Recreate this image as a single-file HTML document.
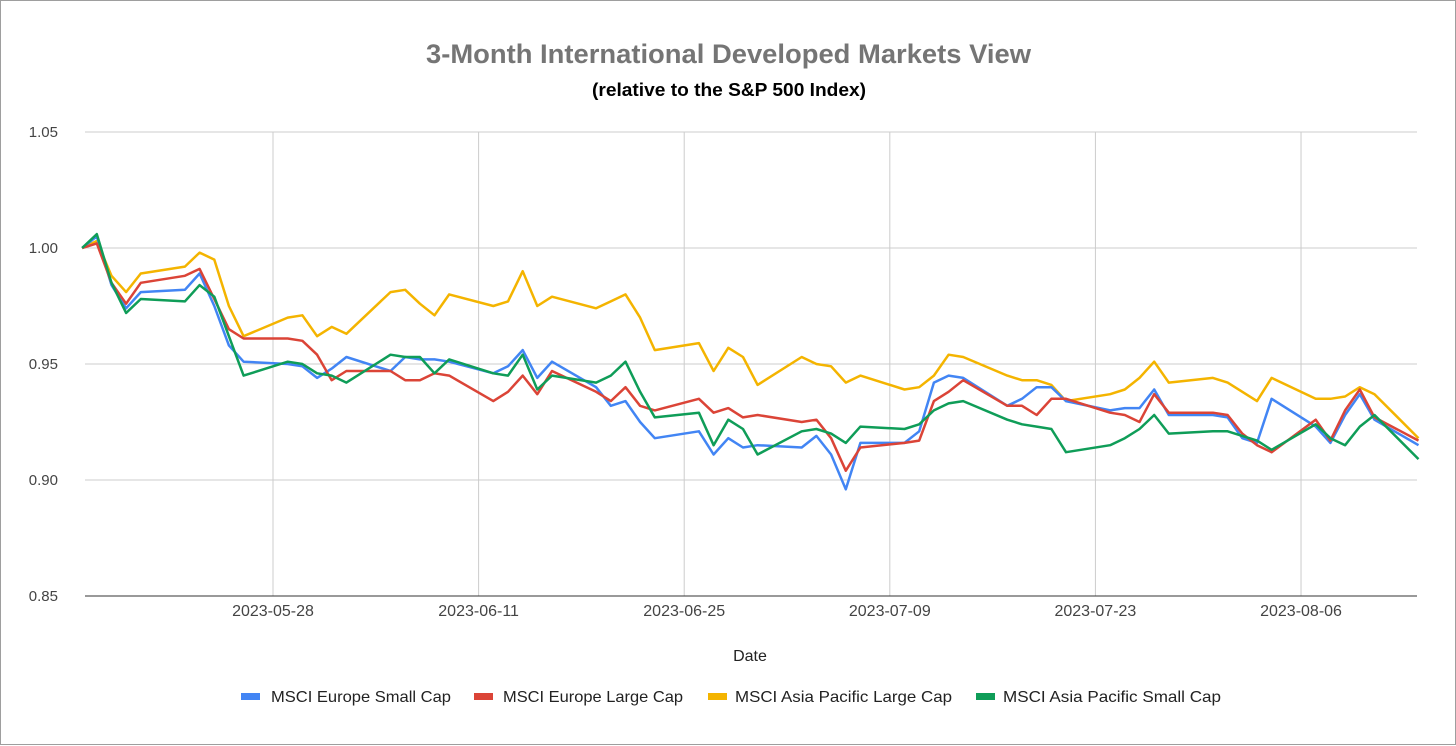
<!DOCTYPE html>
<html><head><meta charset="utf-8"><style>
body{margin:0;background:#fff;font-family:"Liberation Sans",Arial,sans-serif;}
#wrap{position:relative;width:1454px;height:743px;border:1px solid #9e9e9e;}
svg{position:absolute;left:0;top:0}
</style></head><body>
<div id="wrap">
<svg id="chart" width="1456" height="745"></svg>
</div>
<script>
const startDate = "2023-05-15";
const dayCount = 66;
const xTickLabels = ["2023-05-28","2023-06-11","2023-06-25","2023-07-09","2023-07-23","2023-08-06"];
const yTicks = [0.85,0.90,0.95,1.00,1.05];
const seriesNames = ["MSCI Europe Small Cap","MSCI Europe Large Cap","MSCI Asia Pacific Large Cap","MSCI Asia Pacific Small Cap"];
const europeSmall = [1.000,1.005,0.984,0.974,0.981, 0.982,0.989,0.975,0.958,0.951, 0.950,0.949,0.944,0.948,0.953, 0.947,0.953,0.952,0.952,0.951, 0.946,0.949,0.956,0.944,0.951, 0.940,0.932,0.934,0.925,0.918, 0.921,0.911,0.918,0.914,0.915, 0.914,0.919,0.911,0.896,0.916, 0.916,0.921,0.942,0.945,0.944, 0.932,0.935,0.940,0.940,0.934, 0.930,0.931,0.931,0.939,0.928, 0.928,0.927,0.918,0.916,0.935, 0.923,0.916,0.928,0.937,0.926, 0.915];
const europeLarge = [1.000,1.002,0.985,0.976,0.985, 0.988,0.991,0.978,0.965,0.961, 0.961,0.960,0.954,0.943,0.947, 0.947,0.943,0.943,0.946,0.945, 0.934,0.938,0.945,0.937,0.947, 0.938,0.934,0.940,0.932,0.930, 0.935,0.929,0.931,0.927,0.928, 0.925,0.926,0.918,0.904,0.914, 0.916,0.917,0.934,0.938,0.943, 0.932,0.932,0.928,0.935,0.935, 0.929,0.928,0.925,0.937,0.929, 0.929,0.928,0.920,0.915,0.912, 0.926,0.917,0.930,0.939,0.927, 0.917];
const asiaLarge = [1.000,1.003,0.988,0.981,0.989, 0.992,0.998,0.995,0.975,0.962, 0.970,0.971,0.962,0.966,0.963, 0.981,0.982,0.976,0.971,0.980, 0.975,0.977,0.990,0.975,0.979, 0.974,0.977,0.980,0.970,0.956, 0.959,0.947,0.957,0.953,0.941, 0.953,0.950,0.949,0.942,0.945, 0.939,0.940,0.945,0.954,0.953, 0.945,0.943,0.943,0.941,0.934, 0.937,0.939,0.944,0.951,0.942, 0.944,0.942,0.938,0.934,0.944, 0.935,0.935,0.936,0.940,0.937, 0.918];
const asiaSmall = [1.000,1.006,0.985,0.972,0.978, 0.977,0.984,0.979,0.962,0.945, 0.951,0.950,0.946,0.945,0.942, 0.954,0.953,0.953,0.946,0.952, 0.946,0.945,0.954,0.939,0.945, 0.942,0.945,0.951,0.938,0.927, 0.929,0.915,0.926,0.922,0.911, 0.921,0.922,0.920,0.916,0.923, 0.922,0.924,0.930,0.933,0.934, 0.926,0.924,0.923,0.922,0.912, 0.915,0.918,0.922,0.928,0.920, 0.921,0.921,0.919,0.917,0.913, 0.924,0.918,0.915,0.923,0.928, 0.909];
const seriesColors = ["#4285f4","#db4437","#f4b400","#0f9d58"];

const NS="http://www.w3.org/2000/svg";
const svg=document.getElementById('chart');
const X0=84,X1=1416,Y0=131,Y1=595;
const dayMs=86400000;
const t0=Date.parse(startDate+"T00:00:00Z");
const dates=[];
for(let d=0;dates.length<dayCount;d++){const t=t0+d*dayMs;const wd=new Date(t).getUTCDay();if(wd!==0&&wd!==6)dates.push(t);}
const tRef=Date.parse("2023-05-28T00:00:00Z");
const pxPerDay=14.686;
const xs=t=>272+(t-tRef)/dayMs*pxPerDay;
const ys=v=>Y1-(v-0.85)/(1.05-0.85)*(Y1-Y0);
function el(tag,attrs,txt){const e=document.createElementNS(NS,tag);for(const k in attrs)e.setAttribute(k,attrs[k]);if(txt!==undefined)e.textContent=txt;svg.appendChild(e);return e;}

let e=el('text',{x:425,y:62,'font-size':27,'font-weight':'bold',fill:'#757575',textLength:605,lengthAdjust:'spacingAndGlyphs'},'3-Month International Developed Markets View');


e=el('text',{x:591,y:95,'font-size':18,'font-weight':'bold',fill:'#000',textLength:274,lengthAdjust:'spacingAndGlyphs'},'(relative to the S&P 500 Index)');



yTicks.forEach(v=>{
  const y=ys(v);
  if(v>0.85){const g=el('line',{x1:X0,x2:X1,y1:y,y2:y,stroke:'#cccccc','stroke-width':1});
  
  }
  const t=el('text',{x:57,y:y+5,'text-anchor':'end','font-size':15,fill:'#444'},v.toFixed(2));
  
  
});
xTickLabels.forEach(s=>{
  const x=xs(Date.parse(s+"T00:00:00Z"));
  const g=el('line',{x1:x,x2:x,y1:Y0,y2:Y1,stroke:'#cccccc','stroke-width':1});
  
  
  const t=el('text',{x:x,y:615,'text-anchor':'middle','font-size':16,fill:'#444'},s);
  
  
});
e=el('line',{x1:X0,x2:X1,y1:Y1,y2:Y1,stroke:'#333','stroke-width':1});


e=el('text',{x:749,y:660,'text-anchor':'middle','font-size':16,fill:'#222'},'Date');



const allSeries=[europeSmall,europeLarge,asiaLarge,asiaSmall];
const drawOrder=[2,0,1,3];
drawOrder.forEach(i=>{
  const pts=allSeries[i].map((v,j)=>xs(dates[j]).toFixed(1)+','+ys(v).toFixed(1)).join(' ');
  const p=el('polyline',{points:pts,fill:'none',stroke:seriesColors[i],'stroke-width':2.5,'stroke-linejoin':'round'});
  
  
});

const swatchX=[240,473,707,975];
const textX=[270,502,734,1002];
const legendW=[180,180,217,218];
seriesNames.forEach((n,i)=>{
  const r=el('rect',{x:swatchX[i],y:692,width:19,height:7,fill:seriesColors[i]});
  
  
  const t=el('text',{x:textX[i],y:701,'font-size':16,fill:'#222',textLength:legendW[i],lengthAdjust:'spacingAndGlyphs'},n);
  
  
});
</script>
</body></html>
